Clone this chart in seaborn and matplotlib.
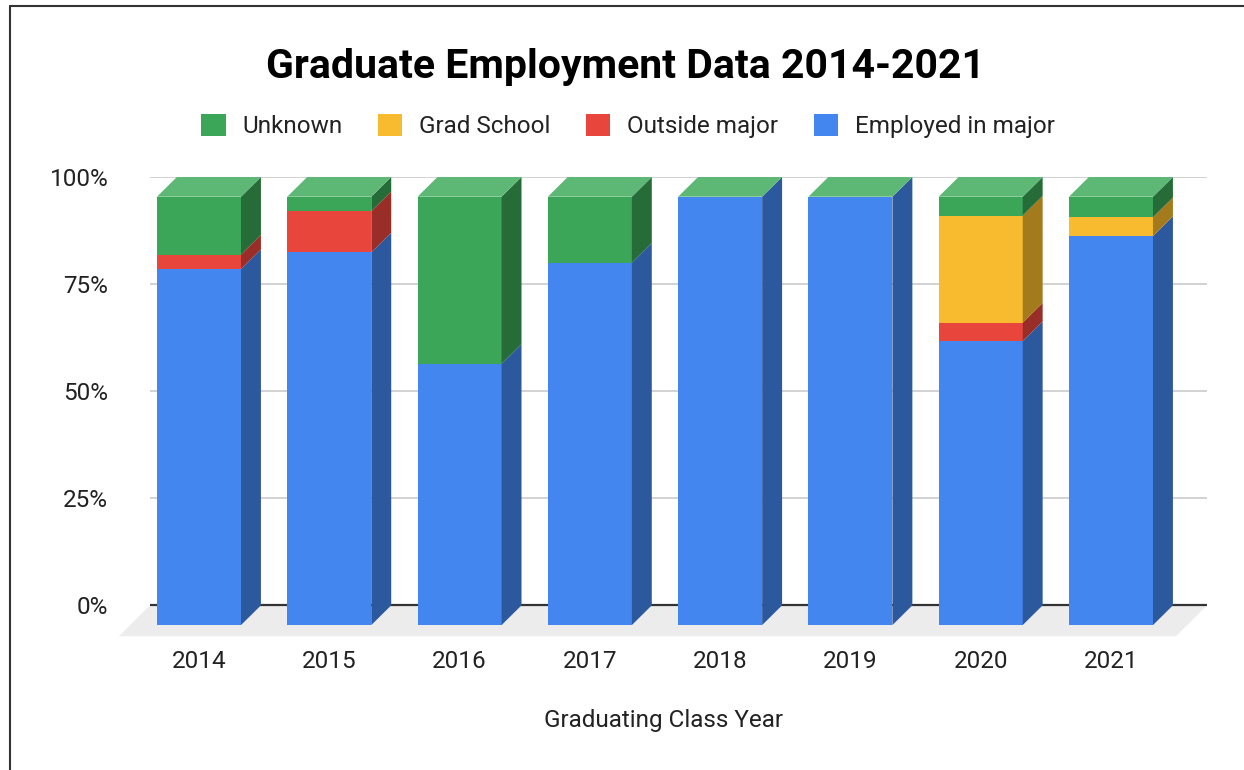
import numpy as np
import pandas as pd
import seaborn as sns
import matplotlib
matplotlib.use("Agg")
import matplotlib.pyplot as plt
from matplotlib.patches import Polygon, Patch
from matplotlib.lines import Line2D

# ---- data ----
years = ["2014", "2015", "2016", "2017", "2018", "2019", "2020", "2021"]
employed_in_major = [83.1, 87.0, 61.0, 84.6, 100.0, 100.0, 66.3, 90.8]
outside_major = [3.4, 9.6, 0.0, 0.0, 0.0, 0.0, 4.3, 0.0]
grad_school = [0.0, 0.0, 0.0, 0.0, 0.0, 0.0, 25.0, 4.4]
unknown = [13.5, 3.4, 39.0, 15.4, 0.0, 0.0, 4.4, 4.8]
series_names = ["Employed in major", "Outside major", "Grad School", "Unknown"]
y_ticks = [0, 25, 50, 75, 100]

df = pd.DataFrame({"year": years,
                   "Employed in major": employed_in_major,
                   "Outside major": outside_major,
                   "Grad School": grad_school,
                   "Unknown": unknown})

front = {"Employed in major": "#4486F0", "Outside major": "#E8453C",
         "Grad School": "#F8BA2E", "Unknown": "#3BA558"}
side = {"Employed in major": "#2C599E", "Outside major": "#992D27",
        "Grad School": "#A47B1C", "Unknown": "#256C39"}
top_col = {"Employed in major": "#6DA0F2", "Outside major": "#EE6F68",
           "Grad School": "#F9CB62", "Unknown": "#5DB876"}

sns.set_theme(style="white")
plt.rcParams["font.family"] = ["Roboto", "DejaVu Sans"]

fig = plt.figure(figsize=(12.44, 7.70), dpi=100)
ax = fig.add_axes([150 / 1244, (770 - 636.2) / 770, 1057 / 1244, (636.2 - 177) / 770])

x = np.arange(len(years))
w = 0.645      # bar front width (category units)
dx = 0.153     # depth offset in x
d = 4.6        # depth offset in y (percent units)
fdx, fd = 0.238, 7.2   # floor depth
xl, xr = -0.376, 7.737

ax.set_xlim(xl, xr)
ax.set_ylim(-fd, 100)

# floor
ax.add_patch(Polygon([(xl, 0), (xr, 0), (xr - fdx, -fd), (xl - fdx, -fd)],
                     closed=True, facecolor="#ececec", edgecolor="none",
                     zorder=0.5, clip_on=False))
# gridlines
for t in y_ticks[1:]:
    ax.axhline(t, color="#cfcfcf", lw=1.3, zorder=0.8)
ax.axhline(0, color="#333333", lw=1.6, zorder=0.9)

bottom = np.zeros(len(years)) - d
for name in series_names:
    vals = df[name].to_numpy()
    ax.bar(x, vals, width=w, bottom=bottom, color=front[name],
           edgecolor="none", zorder=2, linewidth=0)
    for i in range(len(x)):
        if vals[i] <= 0:
            continue
        b = bottom[i]
        t = b + vals[i]
        x1 = x[i] + w / 2
        ax.add_patch(Polygon([(x1, b), (x1 + dx, b + d), (x1 + dx, t + d), (x1, t)],
                             closed=True, facecolor=side[name], edgecolor="none",
                             zorder=2, clip_on=False))
    bottom = bottom + vals

# top faces (coloured as the top series, as in the source chart)
for i in range(len(x)):
    t = bottom[i]
    x0 = x[i] - w / 2
    x1 = x[i] + w / 2
    ax.add_patch(Polygon([(x0, t), (x1, t), (x1 + dx, t + d), (x0 + dx, t + d)],
                         closed=True, facecolor=top_col["Unknown"], edgecolor="none",
                         zorder=2, clip_on=False))

ax.set_xticks(x)
ax.set_xticklabels(years, fontsize=17.5, color="#222222")
ax.set_yticks(y_ticks)
ax.set_yticklabels([f"{t}%" for t in y_ticks], fontsize=17.5, color="#222222")
ax.tick_params(axis="x", length=0, pad=10)
ax.tick_params(axis="y", length=0, pad=30)
for s in ax.spines.values():
    s.set_visible(False)
ax.grid(False)

fig.text(664 / 1244, 1 - 720 / 770, "Graduating Class Year", ha="center", va="center",
         fontsize=17.5, color="#222222")
fig.text(626 / 1244, 1 - 67 / 770, "Graduate Employment Data 2014-2021", ha="center",
         va="center", fontsize=29.5, fontweight="bold", color="#000000")

handles = [Patch(facecolor=front[n], edgecolor="none") for n in series_names[::-1]]
fig.legend(handles, series_names[::-1], loc="center",
           bbox_to_anchor=(628 / 1244, 1 - 126 / 770), ncol=4, frameon=False,
           fontsize=17.5, handlelength=1.0, handleheight=1.0, handletextpad=0.7,
           columnspacing=1.45, labelcolor="#222222")

# frame of the screenshot
fig.add_artist(Line2D([10 / 1244, 10 / 1244], [0, 1 - 6 / 770], transform=fig.transFigure,
                      color="#333333", lw=1.5))
fig.add_artist(Line2D([10 / 1244, 1], [1 - 6 / 770, 1 - 6 / 770], transform=fig.transFigure,
                      color="#333333", lw=1.5))

fig.savefig("out.png", dpi=100, facecolor="white")
